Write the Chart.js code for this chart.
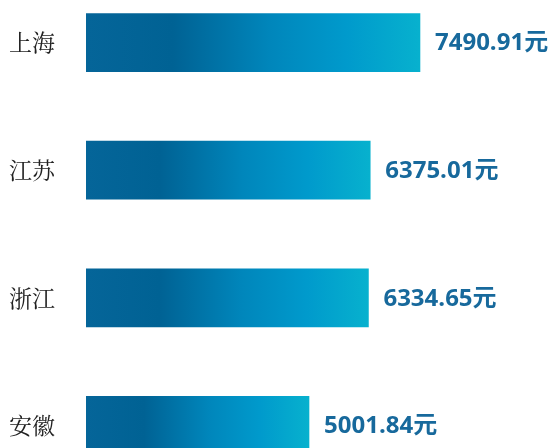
<!DOCTYPE html>
<html>
<head>
<meta charset="utf-8">
<script src="https://cdn.jsdelivr.net/npm/chart.js@4/dist/chart.umd.min.js"></script>
<style>
  html, body { margin: 0; padding: 0; background: #fff; overflow: hidden; width: 551px; height: 448px; }
  #wrap { position: absolute; left: 0; top: -38px; width: 551px; height: 544px; }
</style>
</head>
<body>
<div id="wrap"><canvas id="barChart"></canvas></div>
<script>
// regions and average values (元)
const regions = ['上海', '江苏', '浙江', '安徽'];
const values = [7490.91, 6375.01, 6334.65, 5001.84];
const unit = '元';

function barGradient(context) {
    const chart = context.chart;
    const xScale = chart.scales.x;
    if (!chart.chartArea || !xScale) return '#0068a0';
    const x0 = xScale.getPixelForValue(0);
    const x1 = xScale.getPixelForValue(values[context.dataIndex]);
    const g = chart.ctx.createLinearGradient(x0, 0, x1, 0);
    g.addColorStop(0, '#056599');
    g.addColorStop(0.26, '#006294');
    g.addColorStop(0.55, '#0086bb');
    g.addColorStop(0.78, '#009acc');
    g.addColorStop(1, '#07b1ce');
    return g;
}

// value labels to the right of each bar
const valueLabels = {
    id: 'valueLabels',
    afterDatasetsDraw(chart) {
        const ctx = chart.ctx;
        const meta = chart.getDatasetMeta(0);
        ctx.save();
        ctx.font = 'bold 24px "Open Sans", "Noto Sans CJK SC", sans-serif';
        ctx.fillStyle = '#17699c';
        ctx.textAlign = 'left';
        ctx.textBaseline = 'middle';
        meta.data.forEach((bar, i) => {
            ctx.fillText(values[i].toFixed(2) + unit, bar.x + 15, bar.y + 1);
        });
        ctx.restore();
    }
};

const ctx = document.getElementById('barChart').getContext('2d');
new Chart(ctx, {
    type: 'bar',
    data: {
        labels: regions,
        datasets: [{
            data: values,
            backgroundColor: barGradient,
            borderWidth: 0,
            barThickness: 58
        }]
    },
    options: {
        indexAxis: 'y',
        responsive: true,
        maintainAspectRatio: false,
        animation: false,
        layout: { padding: { left: 9, right: 0, top: 0, bottom: 0 } },
        scales: {
            x: { display: false, min: 0, max: 10430 },
            y: {
                grid: { display: false },
                border: { display: false },
                afterFit(scale) { scale.width = 77; },
                ticks: {
                    crossAlign: 'far',
                    color: '#222',
                    font: { family: 'SimSun, "Noto Serif CJK SC", "Noto Sans CJK SC", serif', size: 23 }
                }
            }
        },
        plugins: {
            legend: { display: false },
            tooltip: { enabled: false }
        }
    },
    plugins: [valueLabels]
});
</script>
</body>
</html>
